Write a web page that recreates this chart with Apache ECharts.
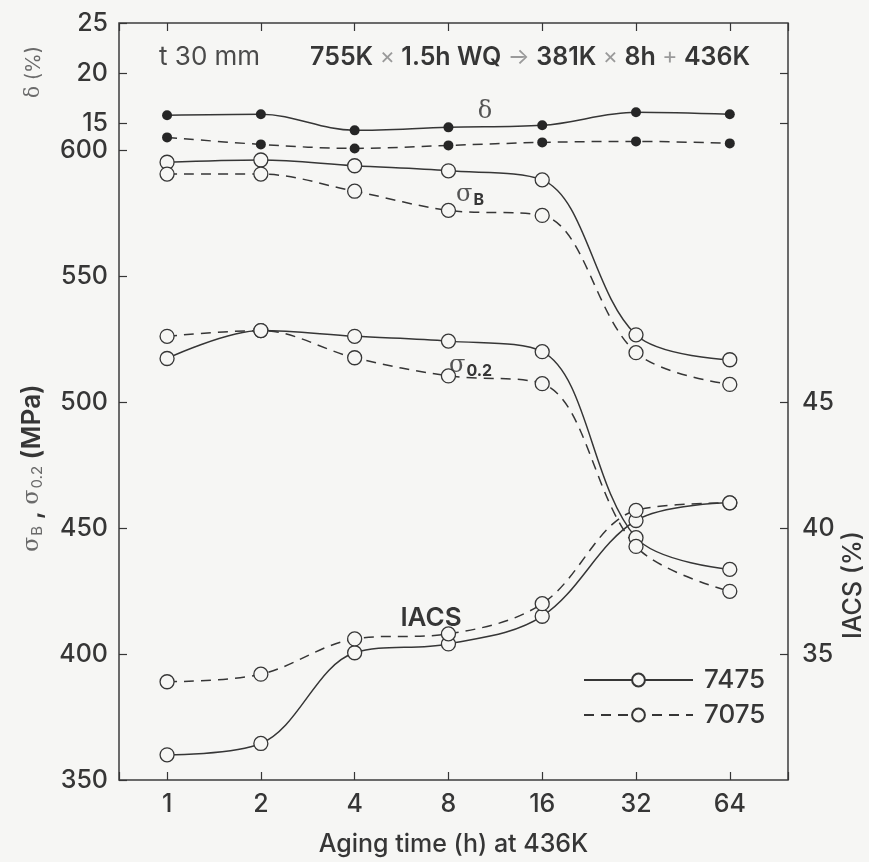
<!DOCTYPE html>
<html>
<head>
<meta charset="utf-8">
<script src="https://cdn.jsdelivr.net/npm/echarts@6/dist/echarts.min.js"></script>
<style>
html, body { margin: 0; padding: 0; background: #f6f6f4; }
#chart { width: 869px; height: 862px; }
</style>
</head>
<body>
<div id="chart"></div>
<script>
// aging time (h) at 436K
var hours = [1, 2, 4, 8, 16, 32, 64];

// elongation delta (%)
var delta7475 = [15.8, 15.9, 14.3, 14.6, 14.8, 16.1, 15.9];
var delta7075 = [13.6, 12.9, 12.5, 12.8, 13.1, 13.2, 13.0];

// tensile strength sigma_B (MPa)
var sigmaB7475 = [595.2, 596.1, 593.8, 591.8, 588.2, 526.7, 516.8];
var sigmaB7075 = [590.5, 590.5, 583.7, 576.1, 574.1, 519.6, 507.0];

// proof stress sigma_0.2 (MPa)
var sigma02_7475 = [517.3, 528.4, 526.1, 524.2, 520.0, 446.2, 433.6];
var sigma02_7075 = [526.1, 528.4, 517.6, 510.4, 507.3, 442.7, 424.9];

// conductivity IACS (%)
var iacs7475 = [31.0, 31.45, 35.05, 35.4, 36.5, 40.3, 41.0];
var iacs7075 = [33.9, 34.2, 35.6, 35.8, 37.0, 40.7, 41.0];

// tick labels
var mpaTicks = [350, 400, 450, 500, 550, 600];
var deltaTicks = [15, 20, 25];
var iacsTicks = [35, 40, 45];

var font = 'Inter, "DejaVu Sans", sans-serif';
var ink = '#363636';
var bg = '#f6f6f4';

function pairs(ys) {
    return hours.map(function (h, i) { return [h, ys[i]]; });
}

function makeLine(name, ys, yIdx, dashed, filled) {
    return {
        name: name,
        type: 'line',
        data: pairs(ys),
        xAxisIndex: 0,
        yAxisIndex: yIdx,
        smooth: 0.35,
        symbol: 'circle',
        symbolSize: filled ? 10 : 14,
        lineStyle: { color: ink, width: 1.5, type: dashed ? [10, 7] : 'solid' },
        itemStyle: filled
            ? { color: '#262626', borderWidth: 0 }
            : { color: bg, borderColor: ink, borderWidth: 1.3 },
        emphasis: { disabled: true },
        animation: false
    };
}

function powerOfTwo(v) {
    var l = Math.log(v) / Math.LN2;
    return Math.abs(l - Math.round(l)) < 1e-6 ? String(Math.round(v)) : '';
}

var xMin = 0.701, xMax = 98.4;
var tickStyle = { color: ink, width: 1.2 };
var labelStyle = { fontSize: 25, fontWeight: 500, color: ink, fontFamily: font };

var chart = echarts.init(document.getElementById('chart'));

var option = {
    backgroundColor: bg,
    animation: false,
    grid: {
        left: 119, right: 81, top: 23, bottom: 77,
        show: true, borderColor: '#3c3c3c', borderWidth: 1.5
    },
    legend: {
        orient: 'vertical',
        left: 578,
        top: 662,
        itemWidth: 109,
        itemHeight: 16,
        itemGap: 9,
        selectedMode: false,
        data: ['7475', '7075'],
        textStyle: { fontSize: 26, fontWeight: 500, color: ink, fontFamily: font, padding: [0, 0, 0, 6] }
    },
    xAxis: [{
        type: 'log', logBase: 2, min: xMin, max: xMax, splitNumber: 7,
        position: 'bottom',
        axisLine: { show: false, onZero: false },
        splitLine: { show: false },
        minorTick: { show: false },
        axisTick: { inside: true, length: 8, lineStyle: tickStyle },
        axisLabel: Object.assign({ formatter: powerOfTwo, margin: 12 }, labelStyle),
        name: 'Aging time (h) at 436K',
        nameLocation: 'middle',
        nameGap: 52,
        nameTextStyle: { fontSize: 25, fontWeight: 500, color: ink, fontFamily: font }
    }, {
        type: 'log', logBase: 2, min: xMin, max: xMax, splitNumber: 7,
        position: 'top',
        axisLine: { show: false, onZero: false },
        splitLine: { show: false },
        minorTick: { show: false },
        axisTick: { inside: true, length: 8, lineStyle: tickStyle },
        axisLabel: { show: false }
    }],
    yAxis: [{
        type: 'value', position: 'left', offset: 0, min: 350, max: 650.47,
        axisLine: { show: false, onZero: false }, splitLine: { show: false },
        axisTick: { inside: true, length: 8, customValues: mpaTicks, lineStyle: tickStyle },
        axisLabel: Object.assign({ customValues: mpaTicks, margin: 11 }, labelStyle)
    }, {
        type: 'value', position: 'left', offset: 0, min: -50.45, max: 25,
        axisLine: { show: false, onZero: false }, splitLine: { show: false },
        axisTick: { inside: true, length: 8, customValues: deltaTicks, lineStyle: tickStyle },
        axisLabel: Object.assign({ customValues: deltaTicks, margin: 11 }, labelStyle)
    }, {
        type: 'value', position: 'right', offset: 0, min: 30, max: 60.047,
        axisLine: { show: false, onZero: false }, splitLine: { show: false },
        axisTick: { inside: true, length: 8, customValues: iacsTicks, lineStyle: tickStyle },
        axisLabel: Object.assign({ customValues: iacsTicks, margin: 14 }, labelStyle)
    }, {
        type: 'value', position: 'right', offset: 0, min: -50.45, max: 25,
        axisLine: { show: false, onZero: false }, splitLine: { show: false },
        axisTick: { inside: true, length: 8, customValues: [15, 20], lineStyle: tickStyle },
        axisLabel: { show: false }
    }],
    graphic: [
        {
            type: 'text', x: 159, y: 57,
            style: { text: 't 30 mm', fontSize: 26, fontFamily: font, fill: '#4a4a4a', align: 'left', verticalAlign: 'middle' }
        },
        {
            type: 'text', x: 310, y: 57,
            style: {
                text: '755K{l| × }1.5h WQ{l| → }381K{l| × }8h{l| + }436K',
                fontSize: 25, fontWeight: 600, fontFamily: font, fill: ink, align: 'left', verticalAlign: 'middle',
                rich: { l: { fontSize: 23, fill: '#9a9a9a', fontFamily: font } }
            }
        },
        {
            type: 'text', x: 485, y: 112,
            style: { text: 'δ', fontSize: 24, fontFamily: '"DejaVu Serif", serif', fill: '#555', align: 'center', verticalAlign: 'middle' }
        },
        {
            type: 'text', x: 456, y: 195,
            style: {
                text: '{s|σ}{b|B}', align: 'left', verticalAlign: 'middle',
                rich: {
                    s: { fontSize: 24, fontFamily: '"DejaVu Serif", serif', fill: '#555' },
                    b: { fontSize: 16, fontWeight: 'bold', fontFamily: font, fill: ink, verticalAlign: 'bottom', padding: [10, 0, 0, 1] }
                }
            }
        },
        {
            type: 'text', x: 449, y: 366,
            style: {
                text: '{s|σ}{b|0.2}', align: 'left', verticalAlign: 'middle',
                rich: {
                    s: { fontSize: 24, fontFamily: '"DejaVu Serif", serif', fill: '#555' },
                    b: { fontSize: 16, fontWeight: 'bold', fontFamily: font, fill: ink, verticalAlign: 'bottom', padding: [10, 0, 0, 1] }
                }
            }
        },
        {
            type: 'text', x: 431, y: 618,
            style: { text: 'IACS', fontSize: 26, fontWeight: 600, fontFamily: font, fill: ink, align: 'center', verticalAlign: 'middle' }
        },
        {
            type: 'text', x: 34, y: 72, rotation: Math.PI / 2,
            style: {
                text: '{s|δ} (%)', align: 'center', verticalAlign: 'middle',
                fontSize: 20, fontFamily: font, fill: '#6a6a6a',
                rich: { s: { fontSize: 20, fontFamily: '"DejaVu Serif", serif', fill: '#6a6a6a' } }
            }
        },
        {
            type: 'text', x: 32, y: 468, rotation: Math.PI / 2,
            style: {
                text: '{s|σ}{b|B} , {s|σ}{b|0.2} (MPa)', align: 'center', verticalAlign: 'middle',
                fontSize: 26, fontWeight: 600, fontFamily: font, fill: ink,
                rich: {
                    s: { fontSize: 22, fontFamily: '"DejaVu Serif", serif', fill: '#6a6a6a' },
                    b: { fontSize: 15, fontFamily: font, fill: '#6a6a6a', verticalAlign: 'bottom', padding: [10, 0, 0, 1] }
                }
            }
        },
        {
            type: 'text', x: 853, y: 585, rotation: Math.PI / 2,
            style: { text: 'IACS (%)', fontSize: 25, fontWeight: 500, fontFamily: font, fill: ink, align: 'center', verticalAlign: 'middle' }
        }
    ],
    series: [
        makeLine('7475', sigmaB7475, 0, false, false),
        makeLine('7075', sigmaB7075, 0, true, false),
        makeLine('7475', sigma02_7475, 0, false, false),
        makeLine('7075', sigma02_7075, 0, true, false),
        makeLine('7475', iacs7475, 2, false, false),
        makeLine('7075', iacs7075, 2, true, false),
        makeLine('7475', delta7475, 1, false, true),
        makeLine('7075', delta7075, 1, true, true)
    ]
};

chart.setOption(option);
</script>
</body>
</html>
